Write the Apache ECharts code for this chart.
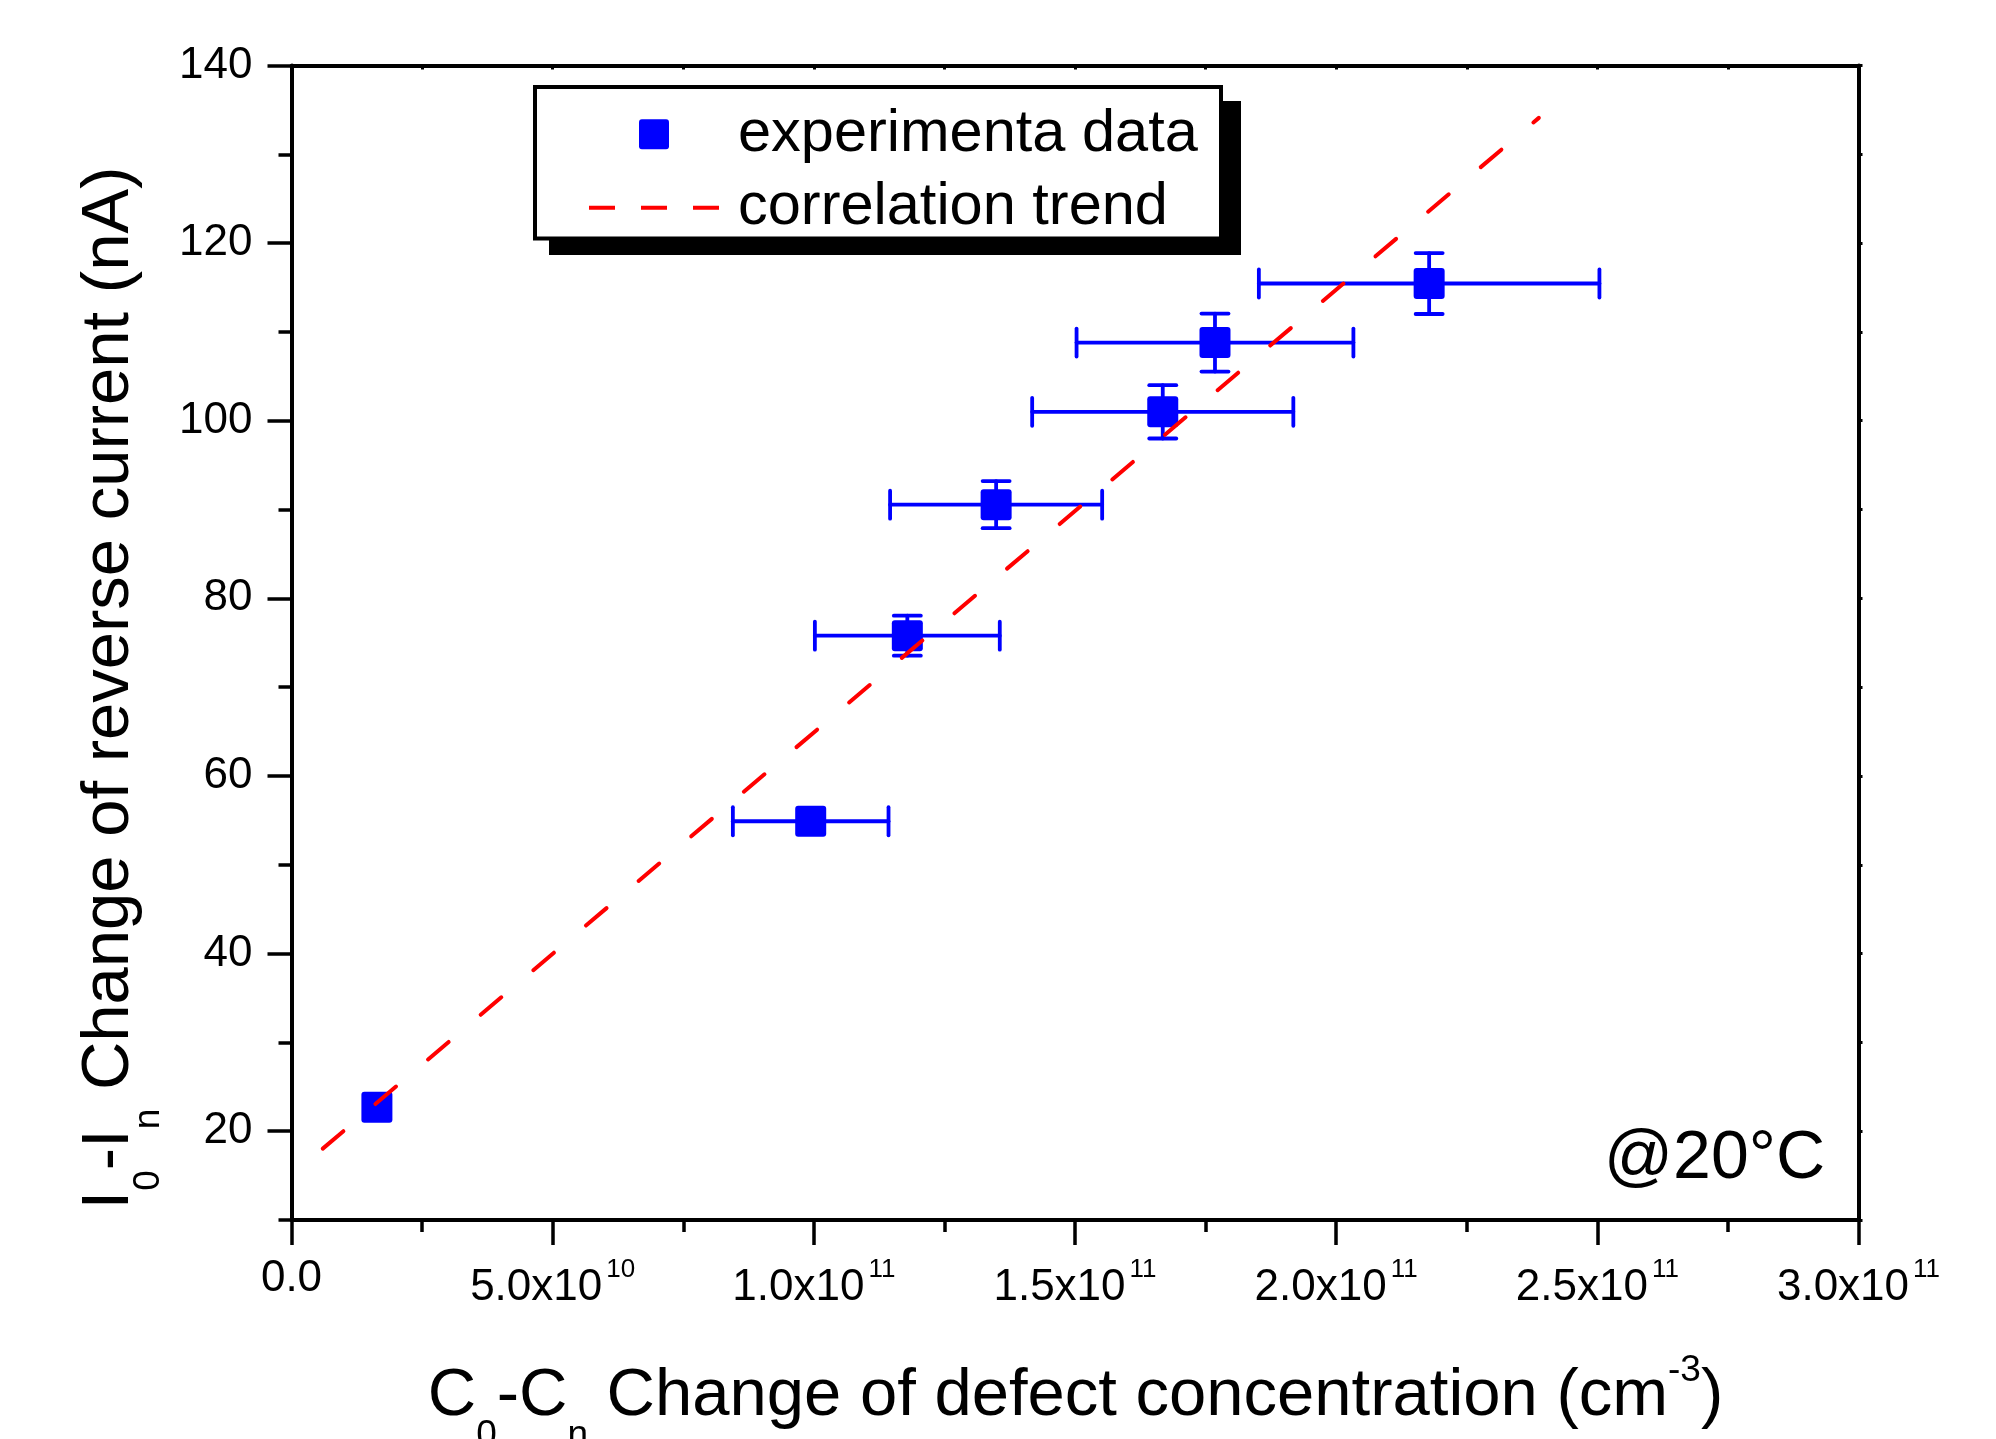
<!DOCTYPE html>
<html>
<head>
<meta charset="utf-8">
<script src="https://cdn.jsdelivr.net/npm/echarts@6/dist/echarts.min.js"></script>
<style>
html,body{margin:0;padding:0;background:#fff;}
#chart{width:1996px;height:1439px;}
</style>
</head>
<body>
<div id="chart"></div>
<script>
// ---- data ----
const xValues = [0.1635e11, 0.994e11, 1.179e11, 1.349e11, 1.668e11, 1.768e11, 2.178e11];
const yValues = [22.7, 54.9, 75.8, 90.55, 101.0, 108.8, 115.45];
const xErrors = [0, 0.149e11, 0.177e11, 0.203e11, 0.25e11, 0.265e11, 0.326e11];
const yErrors = [0, 0, 2.25, 2.65, 3.0, 3.27, 3.43];
const trendX = [0, 2.388e11];
const trendY = [15.05, 134.1];
const yMajorTicks = [20, 40, 60, 80, 100, 120, 140];
const yMinorTicks = [10, 30, 50, 70, 90, 110, 130];
const xTickMantissa = ['0.0', '5.0', '1.0', '1.5', '2.0', '2.5', '3.0'];
const xTickExponent = ['', '10', '11', '11', '11', '11', '11'];
const xTickValues = [0, 5e10, 1e11, 1.5e11, 2e11, 2.5e11, 3e11];

const FONT = "'Liberation Sans', Arial, Helvetica, sans-serif";
const BLUE = '#0000ff';
const RED = '#ff0000';
const SQUARE = 'path://M3,0H28Q31,0 31,3V28Q31,31 28,31H3Q0,31 0,28V3Q0,0 3,0Z';
const DASHES = 'path://M0,0H26V4H0Z M52,0H78V4H52Z M104,0H130V4H104Z';

const scatterData = xValues.map((x, i) => [x, yValues[i]]);
const errData = xValues.map((x, i) => [x, yValues[i], xErrors[i], yErrors[i]]);
const trendData = trendX.map((x, i) => [x, trendY[i]]);

function renderErr(params, api) {
  const x = api.value(0), y = api.value(1), xe = api.value(2), ye = api.value(3);
  const style = { stroke: BLUE, lineWidth: 3.8, lineCap: 'round', fill: null };
  const ch = [];
  const XC = 14, YC = 13.5;
  if (xe > 0) {
    const l = api.coord([x - xe, y]), r = api.coord([x + xe, y]);
    ch.push({ type: 'line', shape: { x1: l[0], y1: l[1], x2: r[0], y2: r[1] }, style });
    ch.push({ type: 'line', shape: { x1: l[0], y1: l[1] - XC, x2: l[0], y2: l[1] + XC }, style });
    ch.push({ type: 'line', shape: { x1: r[0], y1: r[1] - XC, x2: r[0], y2: r[1] + XC }, style });
  }
  if (ye > 0) {
    const t = api.coord([x, y + ye]), b = api.coord([x, y - ye]);
    ch.push({ type: 'line', shape: { x1: t[0], y1: t[1], x2: b[0], y2: b[1] }, style });
    ch.push({ type: 'line', shape: { x1: t[0] - YC, y1: t[1], x2: t[0] + YC, y2: t[1] }, style });
    ch.push({ type: 'line', shape: { x1: b[0] - YC, y1: b[1], x2: b[0] + YC, y2: b[1] }, style });
  }
  return { type: 'group', children: ch };
}

function xLabel(v) {
  const i = xTickValues.findIndex(t => Math.abs(t - v) < 1e6);
  if (i < 0) return '';
  if (!xTickExponent[i]) return '{a|' + xTickMantissa[i] + '}';
  return '{b|' + xTickMantissa[i] + 'x10}{s|' + xTickExponent[i] + '}';
}

const titleRich = {
  m: { fontSize: 67, lineHeight: 67, fontFamily: FONT, color: '#000', padding: [10.6, 0, 0, 0], verticalAlign: 'top' },
  sub: { fontSize: 37, lineHeight: 37, fontFamily: FONT, color: '#000', padding: [65, 0, 0, 0], verticalAlign: 'top' },
  sup: { fontSize: 37, lineHeight: 37, fontFamily: FONT, color: '#000', padding: [0, 0, 0, 0], verticalAlign: 'top' }
};

const chart = echarts.init(document.getElementById('chart'), null, { renderer: 'canvas' });
chart.setOption({
  animation: false,
  backgroundColor: '#fff',
  grid: { left: 291.5, right: 137.5, top: 65.5, bottom: 219, containLabel: false },
  xAxis: [
    {
      type: 'value', position: 'bottom', min: 0, max: 3e11, interval: 5e10,
      axisLine: { show: true, onZero: false, lineStyle: { color: '#000', width: 4 } },
      axisTick: { show: true, inside: false, length: 25, lineStyle: { color: '#000', width: 3.5 } },
      minorTick: { show: true, splitNumber: 2, length: 12, lineStyle: { color: '#000', width: 3.5 } },
      splitLine: { show: false },
      axisLabel: {
        show: true, margin: 37, color: '#000', fontFamily: FONT, fontSize: 44,
        formatter: xLabel,
        rich: {
          a: { fontSize: 44, lineHeight: 44, fontFamily: FONT, color: '#000', verticalAlign: 'top' },
          b: { fontSize: 44, lineHeight: 44, fontFamily: FONT, color: '#000', padding: [9, 0, 0, 0], verticalAlign: 'top' },
          s: { fontSize: 26, lineHeight: 26, fontFamily: FONT, color: '#000', padding: [0, 0, 0, 4], verticalAlign: 'top' }
        }
      }
    },
    {
      type: 'value', position: 'top', min: 0, max: 3e11, interval: 2.5e10,
      axisLine: { show: true, onZero: false, lineStyle: { color: '#000', width: 4 } },
      axisTick: { show: true, inside: true, length: 4, lineStyle: { color: '#000', width: 3 } },
      axisLabel: { show: false }, splitLine: { show: false }
    }
  ],
  yAxis: [
    {
      type: 'value', position: 'left', min: 10, max: 140, interval: 10,
      axisLine: { show: true, onZero: false, lineStyle: { color: '#000', width: 4 } },
      axisTick: { show: true, inside: false, length: 24, customValues: yMajorTicks, lineStyle: { color: '#000', width: 3.5 } },
      axisLabel: { show: true, margin: 39, customValues: yMajorTicks, color: '#000', fontFamily: FONT, fontSize: 44 },
      splitLine: { show: false }
    },
    {
      type: 'value', position: 'left', min: 10, max: 140, interval: 10,
      axisLine: { show: false },
      axisTick: { show: true, inside: false, length: 13, customValues: yMinorTicks, lineStyle: { color: '#000', width: 3.5 } },
      axisLabel: { show: false }, splitLine: { show: false }
    },
    {
      type: 'value', position: 'right', min: 10, max: 140, interval: 10,
      axisLine: { show: true, onZero: false, lineStyle: { color: '#000', width: 4 } },
      axisTick: { show: true, inside: false, length: 4, lineStyle: { color: '#000', width: 3 } },
      axisLabel: { show: false }, splitLine: { show: false }
    }
  ],
  legend: {
    show: true, orient: 'vertical', left: 535, top: 87, z: 20,
    padding: [17.25, 36, 6, 54],
    itemWidth: 130, itemHeight: 30, itemGap: 13.5,
    selectedMode: false,
    backgroundColor: 'transparent', borderWidth: 0,
    textStyle: { fontSize: 59.5, lineHeight: 59.5, fontFamily: FONT, color: '#000', padding: [0, 0, 0, 14] },
    data: [
      { name: 'experimenta data', icon: SQUARE },
      { name: 'correlation trend', icon: DASHES }
    ]
  },
  graphic: [
    {
      type: 'rect', z: 15, silent: true,
      shape: { x: 549, y: 101, width: 692, height: 154 },
      style: { fill: '#000' }
    },
    {
      type: 'rect', z: 16, silent: true,
      shape: { x: 535, y: 87, width: 686, height: 151.5 },
      style: { fill: '#fff', stroke: '#000', lineWidth: 4 }
    },
    {
      type: 'text', x: 1075.5, y: 1352.7, z: 10,
      style: {
        text: '{m|C}{sub|0}{m|-C}{sub|n}{m| Change of defect concentration (cm}{sup|-3}{m|)}',
        rich: titleRich, align: 'center', verticalAlign: 'top'
      }
    },
    {
      type: 'text', x: 65.7, y: 688, rotation: Math.PI / 2, z: 10,
      style: {
        text: '{m|I}{sub|0}{m|-I}{sub|n}{m| Change of reverse current (nA)}',
        rich: titleRich, align: 'center', verticalAlign: 'top'
      }
    },
    {
      type: 'text', x: 1825, y: 1159, z: 10,
      style: { text: '@20°C', fontSize: 68, fontFamily: FONT, fill: '#000', align: 'right', verticalAlign: 'middle' }
    }
  ],
  series: [
    {
      name: 'error bars', type: 'custom', xAxisIndex: 0, yAxisIndex: 0,
      renderItem: renderErr, data: errData, z: 2, silent: true,
      encode: { x: [0], y: [1] }
    },
    {
      name: 'experimenta data', type: 'scatter', xAxisIndex: 0, yAxisIndex: 0,
      data: scatterData, symbol: SQUARE, symbolSize: 31,
      itemStyle: { color: BLUE, opacity: 1 }, z: 3, silent: true
    },
    {
      name: 'correlation trend', type: 'line', xAxisIndex: 0, yAxisIndex: 0,
      data: trendData, symbol: 'none', showSymbol: false, clip: true,
      lineStyle: { color: RED, width: 4, type: [27, 42], cap: 'round', dashOffset: 28 },
      itemStyle: { color: RED }, z: 4, silent: true
    }
  ]
});
</script>
</body>
</html>
